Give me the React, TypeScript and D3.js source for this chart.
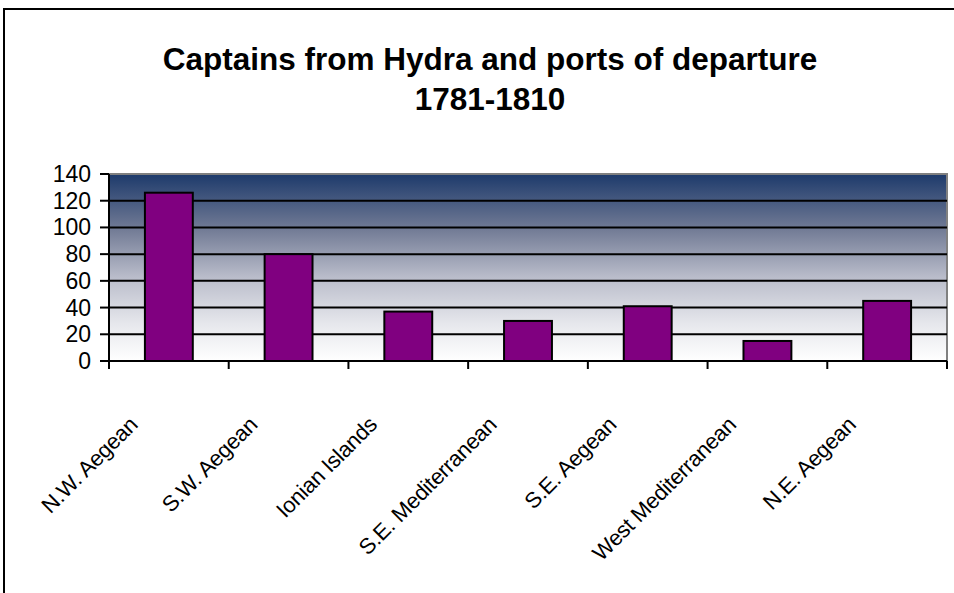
import React from "react";
import { scaleBand, scaleLinear } from "d3";

const regions = [
  "N.W. Aegean",
  "S.W. Aegean",
  "Ionian Islands",
  "S.E. Mediterranean",
  "S.E. Aegean",
  "West Mediterranean",
  "N.E. Aegean",
];
const captains = [126, 80, 37, 30, 41, 15, 45];
const yTicks = [0, 20, 40, 60, 80, 100, 120, 140];
const titleLines = ["Captains from Hydra and ports of departure", "1781-1810"];

const W = 954;
const H = 593;
const plot = { left: 109, right: 947, top: 174, bottom: 361 };
const font = "'Liberation Sans', Arial, sans-serif";

export default function App() {
  const x = scaleBand<string>()
    .domain(regions)
    .range([plot.left, plot.right])
    .paddingInner(0.6)
    .paddingOuter(0.3);
  const y = scaleLinear().domain([0, 140]).range([plot.bottom, plot.top]);
  const step = x.step();
  const slotStart = (i: number) => plot.left + i * step;

  return (
    <svg
      width={W}
      height={H}
      style={{ position: "absolute", left: 0, top: 0, background: "#fff" }}
      fontFamily={font}
    >
      <defs>
        <linearGradient id="bg" x1="0" y1="0" x2="0" y2="1">
          <stop offset="0" stopColor="#1d3a6b" />
          <stop offset="0.3" stopColor="#737c96" />
          <stop offset="0.55" stopColor="#b9bcca" />
          <stop offset="0.8" stopColor="#e6e7ec" />
          <stop offset="1" stopColor="#ffffff" />
        </linearGradient>
      </defs>

      {/* chart border, runs off the right and bottom */}
      <rect x={4} y={9} width={W + 20} height={H + 20} fill="none" stroke="#000" strokeWidth={2} />

      {titleLines.map((t, i) => (
        <text
          key={t}
          x={490}
          y={70 + i * 40}
          textAnchor="middle"
          fontSize={31.5}
          fontWeight="bold"
        >
          {t}
        </text>
      ))}

      <rect
        x={plot.left}
        y={plot.top}
        width={plot.right - plot.left}
        height={plot.bottom - plot.top}
        fill="url(#bg)"
        stroke="#808080"
        strokeWidth={2}
      />

      {yTicks.slice(1, -1).map((v) => (
        <line key={v} x1={plot.left} x2={plot.right} y1={y(v)} y2={y(v)} stroke="#000" strokeWidth={2} />
      ))}

      {captains.map((v, i) => (
        <rect
          key={regions[i]}
          x={x(regions[i])}
          y={y(v)}
          width={x.bandwidth()}
          height={y(0) - y(v)}
          fill="#800080"
          stroke="#000"
          strokeWidth={2}
        />
      ))}

      {/* y axis */}
      <line x1={plot.left} x2={plot.left} y1={plot.top} y2={plot.bottom} stroke="#000" strokeWidth={2} />
      {yTicks.map((v) => (
        <g key={v}>
          <line x1={plot.left - 9} x2={plot.left} y1={y(v)} y2={y(v)} stroke="#000" strokeWidth={2} />
          <text x={91} y={y(v) + 8} textAnchor="end" fontSize={23}>
            {v}
          </text>
        </g>
      ))}

      {/* x axis */}
      <line x1={plot.left} x2={plot.right} y1={plot.bottom} y2={plot.bottom} stroke="#000" strokeWidth={2} />
      {regions.concat([""]).map((_, i) => (
        <line
          key={i}
          x1={slotStart(i)}
          x2={slotStart(i)}
          y1={plot.bottom}
          y2={plot.bottom + 8}
          stroke="#000"
          strokeWidth={2}
        />
      ))}
      {regions.map((r) => {
        const cx = (x(r) ?? 0) + x.bandwidth() / 2;
        return (
          <text
            key={r}
            transform={`translate(${cx - 30},${426}) rotate(-45)`}
            textAnchor="end"
            fontSize={22}
            letterSpacing={-0.3}
          >
            {r}
          </text>
        );
      })}
    </svg>
  );
}
